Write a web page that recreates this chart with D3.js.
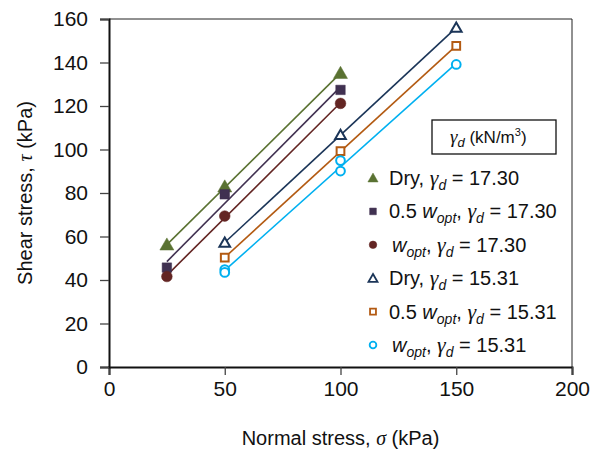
<!DOCTYPE html>
<html>
<head>
<meta charset="utf-8">
<script src="https://cdn.jsdelivr.net/npm/d3@7"></script>
<style>
  body { margin: 0; background: #fff; }
  svg { font-family: "Liberation Sans", Arial, sans-serif; }
</style>
</head>
<body>
<svg id="chart" width="595" height="454"></svg>
<script>
// values: [normal stress, shear stress] in kPa
const dry1730 = [[25, 56.1], [50, 82.8], [100, 135.0]];
const half1730 = [[25, 45.7], [50, 79.4], [100, 127.4]];
const opt1730 = [[25, 41.6], [50, 69.4], [100, 121.2]];
const dry1531 = [[50, 57.2], [100, 106.7], [150, 156.0]];
const half1531 = [[50, 50.3], [100, 99.2], [150, 147.7]];
const opt1531 = [[50, 44.8], [50, 43.5], [100, 94.9], [100, 90.1], [150, 139.1]];

const xTicks = [0, 50, 100, 150, 200];
const yTicks = [0, 20, 40, 60, 80, 100, 120, 140, 160];

const series = [
  { data: dry1730, color: "#5a7232", shape: "triangle", filled: true, label: ["Dry, ", null, "17.30"] },
  { data: half1730, color: "#403151", shape: "square", filled: true, label: ["0.5 ", "w", "17.30"] },
  { data: opt1730, color: "#632523", shape: "circle", filled: true, label: ["", "w", "17.30"] },
  { data: dry1531, color: "#1b3558", shape: "triangle", filled: false, label: ["Dry, ", null, "15.31"] },
  { data: half1531, color: "#b35a12", shape: "square", filled: false, label: ["0.5 ", "w", "15.31"] },
  { data: opt1531, color: "#00b0f0", shape: "circle", filled: false, label: ["", "w", "15.31"] }
];

const svg = d3.select("#chart");
const mLeft = 109, mRight = 572, mTop = 19, mBottom = 367;

const x = d3.scaleLinear().domain([0, 200]).range([mLeft, mRight]);
const y = d3.scaleLinear().domain([0, 160]).range([mBottom, mTop]);

// frame (top/right)
svg.append("line").attr("x1", mLeft).attr("x2", mRight).attr("y1", mTop).attr("y2", mTop)
  .attr("stroke", "#222").attr("stroke-width", 1);
svg.append("line").attr("x1", mRight).attr("x2", mRight).attr("y1", mTop).attr("y2", mBottom)
  .attr("stroke", "#222").attr("stroke-width", 1);

const xAxis = svg.append("g")
  .attr("transform", `translate(0,${mBottom})`)
  .call(d3.axisBottom(x).tickValues(xTicks).tickSize(8).tickPadding(6));
const yAxis = svg.append("g")
  .attr("transform", `translate(${mLeft},0)`)
  .call(d3.axisLeft(y).tickValues(yTicks).tickSize(9).tickPadding(12));

[xAxis, yAxis].forEach(g => {
  g.select(".domain").attr("stroke", "#111").attr("stroke-width", 2);
  g.selectAll(".tick line").attr("stroke", "#444").attr("stroke-width", 1.3);
  g.selectAll(".tick text").attr("font-size", 21).attr("fill", "#111")
    .attr("font-family", "Liberation Sans, Arial, sans-serif");
});

// trend lines (least squares fit over each series)
function fit(pts) {
  const mx = d3.mean(pts, d => d[0]), my = d3.mean(pts, d => d[1]);
  const b = d3.sum(pts, d => (d[0] - mx) * (d[1] - my)) / d3.sum(pts, d => (d[0] - mx) ** 2);
  return s => my + b * (s - mx);
}

const shapeSym = { triangle: d3.symbolTriangle, square: d3.symbolSquare, circle: d3.symbolCircle };
const shapeSize = { triangle: 85, square: 90, circle: 90 };
const openSize = { triangle: 50, square: 60, circle: 60 };

series.forEach(s => {
  const f = fit(s.data);
  const [x0, x1] = d3.extent(s.data, d => d[0]);
  svg.append("line")
    .attr("x1", x(x0)).attr("y1", y(f(x0)))
    .attr("x2", x(x1)).attr("y2", y(f(x1)))
    .attr("stroke", s.color).attr("stroke-width", 1.6);
});

series.forEach(s => {
  const sym = d3.symbol().type(shapeSym[s.shape]).size(s.filled ? shapeSize[s.shape] : openSize[s.shape]);
  svg.append("g").selectAll("path")
    .data(s.data)
    .join("path")
    .attr("d", sym)
    .attr("transform", d => `translate(${x(d[0])},${y(d[1]) + (s.shape === "triangle" ? 1 : 0)})`)
    .attr("fill", s.filled ? s.color : "#fff")
    .attr("stroke", s.color)
    .attr("stroke-width", s.filled ? 0.5 : 2);
});

// axis titles
svg.append("text")
  .attr("x", (mLeft + mRight) / 2).attr("y", 445)
  .attr("text-anchor", "middle").attr("font-size", 20).attr("fill", "#111")
  .call(t => {
    t.append("tspan").text("Normal stress, ");
    t.append("tspan").attr("font-style", "italic").attr("font-family", "Liberation Serif, serif").text("σ");
    t.append("tspan").text(" (kPa)");
  });

svg.append("text")
  .attr("transform", `translate(32,${(mTop + mBottom) / 2}) rotate(-90)`)
  .attr("text-anchor", "middle").attr("font-size", 20).attr("fill", "#111")
  .call(t => {
    t.append("tspan").text("Shear stress, ");
    t.append("tspan").attr("font-style", "italic").attr("font-family", "Liberation Serif, serif").text("τ");
    t.append("tspan").text(" (kPa)");
  });

// legend header box
svg.append("rect").attr("x", 432).attr("y", 120).attr("width", 124).attr("height", 34)
  .attr("fill", "#fff").attr("stroke", "#111").attr("stroke-width", 1.3);
svg.append("text").attr("x", 450).attr("y", 143).attr("font-size", 17).attr("fill", "#111")
  .call(t => {
    t.append("tspan").attr("font-style", "italic").attr("font-family", "Liberation Serif, serif").attr("font-size", 19).text("γ");
    t.append("tspan").attr("font-style", "italic").attr("font-size", 13).attr("dy", 4).text("d");
    t.append("tspan").attr("dy", -4).text(" (kN/m");
    t.append("tspan").attr("font-size", 11).attr("dy", -7).text("3");
    t.append("tspan").attr("dy", 7).text(")");
  });

// legend entries
const rowY = d3.scalePoint().domain(d3.range(series.length)).range([178, 345]);
series.forEach((s, i) => {
  const cy = rowY(i);
  const sym = d3.symbol().type(shapeSym[s.shape]).size(s.filled ? 45 : 35);
  svg.append("path").attr("d", sym)
    .attr("transform", `translate(373,${cy + (s.shape === "triangle" ? 1 : 0)})`)
    .attr("fill", s.filled ? s.color : "#fff")
    .attr("stroke", s.color).attr("stroke-width", s.filled ? 0.5 : 1.8);

  const t = svg.append("text").attr("x", s.label[0] === "" ? 392 : 389).attr("y", cy + 7)
    .attr("font-size", 20).attr("fill", "#111");
  t.append("tspan").text(s.label[0]);
  if (s.label[1]) {
    t.append("tspan").attr("font-style", "italic").text("w");
    t.append("tspan").attr("font-style", "italic").attr("font-size", 14).attr("dy", 5).text("opt");
    t.append("tspan").attr("dy", -5).text(", ");
  }
  t.append("tspan").attr("font-style", "italic").attr("font-family", "Liberation Serif, serif").attr("font-size", 22).text("γ");
  t.append("tspan").attr("font-style", "italic").attr("font-size", 14).attr("dy", 5).text("d");
  t.append("tspan").attr("dy", -5).text(" = " + s.label[2]);
});
</script>
</body>
</html>
